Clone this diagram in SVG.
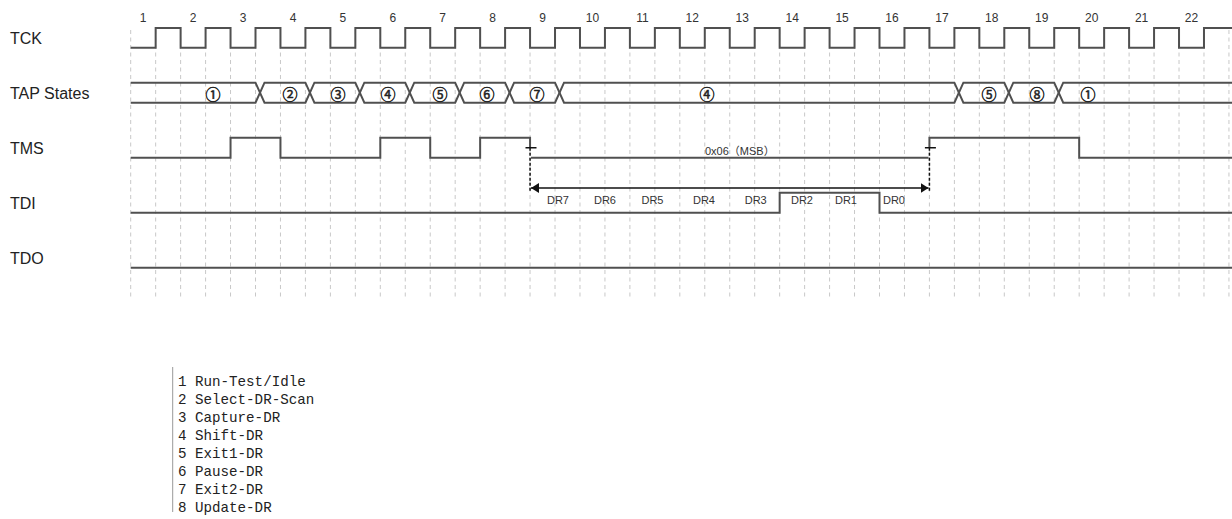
<svg xmlns="http://www.w3.org/2000/svg" width="1232" height="519" viewBox="0 0 1232 519">
<style>
.grid{stroke:#c8c8c8;stroke-width:1;stroke-dasharray:4 3.5;fill:none}
.sig{stroke:#505050;stroke-width:2;fill:none}
.name{font-family:"Liberation Sans",Arial,sans-serif;font-size:16px;fill:#222}
.num{font-family:"Liberation Sans",Arial,sans-serif;font-size:12px;fill:#333;text-anchor:middle}
.st{font-family:"Noto Sans CJK SC","DejaVu Sans",sans-serif;font-size:15px;fill:#222;stroke:#222;stroke-width:0.5;text-anchor:middle;dominant-baseline:central}
.dr{font-family:"Liberation Sans",Arial,sans-serif;font-size:11px;fill:#333;text-anchor:middle}
.ann{font-family:"Liberation Sans","Noto Sans CJK SC",sans-serif;font-size:11px;fill:#333}
.leg{font-family:"Liberation Mono","Noto Sans CJK SC",monospace;font-size:14.2px;fill:#222}
.blk{stroke:#111;stroke-width:1.5;fill:none}
.bdash{stroke:#111;stroke-width:1.5;stroke-dasharray:3 2;fill:none}
</style>
<defs>
<marker id="ah" viewBox="0 0 8 10" refX="8" refY="5" markerWidth="8" markerHeight="10" markerUnits="userSpaceOnUse" orient="auto-start-reverse">
<path d="M0,0 L8,5 L0,10 Z" fill="#111"/>
</marker>
</defs>
<rect width="1232" height="519" fill="#fff"/>
<g id="grid">
<path class="grid" d="M130.7,30V300M155.66,30V300M180.62,30V300M205.58,30V300M230.54,30V300M255.5,30V300M280.46,30V300M305.42,30V300M330.38,30V300M355.34,30V300M380.3,30V300M405.26,30V300M430.22,30V300M455.18,30V300M480.14,30V300M505.1,30V300M530.06,30V300M555.02,30V300M579.98,30V300M604.94,30V300M629.9,30V300M654.86,30V300M679.82,30V300M704.78,30V300M729.74,30V300M754.7,30V300M779.66,30V300M804.62,30V300M829.58,30V300M854.54,30V300M879.5,30V300M904.46,30V300M929.42,30V300M954.38,30V300M979.34,30V300M1004.3,30V300M1029.26,30V300M1054.22,30V300M1079.18,30V300M1104.14,30V300M1129.1,30V300M1154.06,30V300M1179.02,30V300M1203.98,30V300M1228.94,30V300"/>
</g>
<g id="clock-numbers">
<text class="num" x="143.2" y="21.5">1</text>
<text class="num" x="193.1" y="21.5">2</text>
<text class="num" x="243" y="21.5">3</text>
<text class="num" x="293" y="21.5">4</text>
<text class="num" x="342.9" y="21.5">5</text>
<text class="num" x="392.8" y="21.5">6</text>
<text class="num" x="442.7" y="21.5">7</text>
<text class="num" x="492.6" y="21.5">8</text>
<text class="num" x="542.6" y="21.5">9</text>
<text class="num" x="592.5" y="21.5">10</text>
<text class="num" x="642.4" y="21.5">11</text>
<text class="num" x="692.3" y="21.5">12</text>
<text class="num" x="742.2" y="21.5">13</text>
<text class="num" x="792.2" y="21.5">14</text>
<text class="num" x="842.1" y="21.5">15</text>
<text class="num" x="892" y="21.5">16</text>
<text class="num" x="941.9" y="21.5">17</text>
<text class="num" x="991.8" y="21.5">18</text>
<text class="num" x="1041.8" y="21.5">19</text>
<text class="num" x="1091.7" y="21.5">20</text>
<text class="num" x="1141.6" y="21.5">21</text>
<text class="num" x="1191.5" y="21.5">22</text>
</g>
<g id="tck">
<text class="name" x="10" y="43.5">TCK</text>
<path class="sig" d="M130.7,47.7H155.66V28H180.62V47.7H205.58V28H230.54V47.7H255.5V28H280.46V47.7H305.42V28H330.38V47.7H355.34V28H380.3V47.7H405.26V28H430.22V47.7H455.18V28H480.14V47.7H505.1V28H530.06V47.7H555.02V28H579.98V47.7H604.94V28H629.9V47.7H654.86V28H679.82V47.7H704.78V28H729.74V47.7H754.7V28H779.66V47.7H804.62V28H829.58V47.7H854.54V28H879.5V47.7H904.46V28H929.42V47.7H954.38V28H979.34V47.7H1004.3V28H1029.26V47.7H1054.22V28H1079.18V47.7H1104.14V28H1129.1V47.7H1154.06V28H1179.02V47.7H1203.98V28H1232"/>
</g>
<g id="tap-states">
<text class="name" x="10" y="98.5">TAP States</text>
<path class="sig" d="M130.7,82.7H255.5L264.5,102.7H305.42L314.42,82.7H355.34L364.34,102.7H405.26L414.26,82.7H455.18L464.18,102.7H505.1L514.1,82.7H555.02L564.02,102.7H954.38L963.38,82.7H1004.3L1013.3,102.7H1054.22L1063.22,82.7H1232"/>
<path class="sig" d="M130.7,102.7H255.5L264.5,82.7H305.42L314.42,102.7H355.34L364.34,82.7H405.26L414.26,102.7H455.18L464.18,82.7H505.1L514.1,102.7H555.02L564.02,82.7H954.38L963.38,102.7H1004.3L1013.3,82.7H1054.22L1063.22,102.7H1232"/>
<text class="st" x="213" y="93">①</text>
<text class="st" x="290" y="93">②</text>
<text class="st" x="338" y="93">③</text>
<text class="st" x="388" y="93">④</text>
<text class="st" x="440" y="93">⑤</text>
<text class="st" x="487" y="93">⑥</text>
<text class="st" x="537" y="93">⑦</text>
<text class="st" x="707" y="93">④</text>
<text class="st" x="989" y="93">⑤</text>
<text class="st" x="1037" y="93">⑧</text>
<text class="st" x="1088" y="93">①</text>
</g>
<g id="tms">
<text class="name" x="10" y="153.5">TMS</text>
<path class="sig" d="M130.7,157.7H230.54V137.7H280.46V157.7H380.3V137.7H430.22V157.7H480.14V137.7H530.06V147.7"/>
<path class="sig" d="M531,157.7H928.5"/>
<path class="sig" d="M929.42,147.7V137.7H1079.18V157.7H1232"/>
<text class="ann" x="705" y="154.5">0x06（MSB）</text>
</g>
<g id="tdi">
<text class="name" x="10" y="208.5">TDI</text>
<path class="sig" d="M130.7,212.7H779.66V192.7H879.5V212.7H1232"/>
<text class="dr" x="558" y="204.3">DR7</text>
<text class="dr" x="605" y="204.3">DR6</text>
<text class="dr" x="652.5" y="204.3">DR5</text>
<text class="dr" x="704" y="204.3">DR4</text>
<text class="dr" x="755.7" y="204.3">DR3</text>
<text class="dr" x="802" y="204.3">DR2</text>
<text class="dr" x="846" y="204.3">DR1</text>
<text class="dr" x="894" y="204.3">DR0</text>
</g>
<g id="tdo">
<text class="name" x="10" y="263.5">TDO</text>
<path class="sig" d="M130.7,267.7H1232"/>
</g>
<g id="connectors">
<path class="blk" d="M525.5,147.7H536.5M924.9,147.7H935.9"/>
<path class="bdash" d="M530.06,147.7V192M929.42,147.7V192"/>
<path class="blk" d="M531,188H928.5" marker-start="url(#ah)" marker-end="url(#ah)"/>
</g>
<g id="legend">
<path d="M172.7,367V512" stroke="#999" stroke-width="1" fill="none"/>
<text class="leg" x="178" y="385.7">1 Run-Test/Idle</text>
<text class="leg" x="178" y="403.7">2 Select-DR-Scan</text>
<text class="leg" x="178" y="421.7">3 Capture-DR</text>
<text class="leg" x="178" y="439.7">4 Shift-DR</text>
<text class="leg" x="178" y="457.7">5 Exit1-DR</text>
<text class="leg" x="178" y="475.7">6 Pause-DR</text>
<text class="leg" x="178" y="493.7">7 Exit2-DR</text>
<text class="leg" x="178" y="511.7">8 Update-DR</text>
</g>
</svg>
